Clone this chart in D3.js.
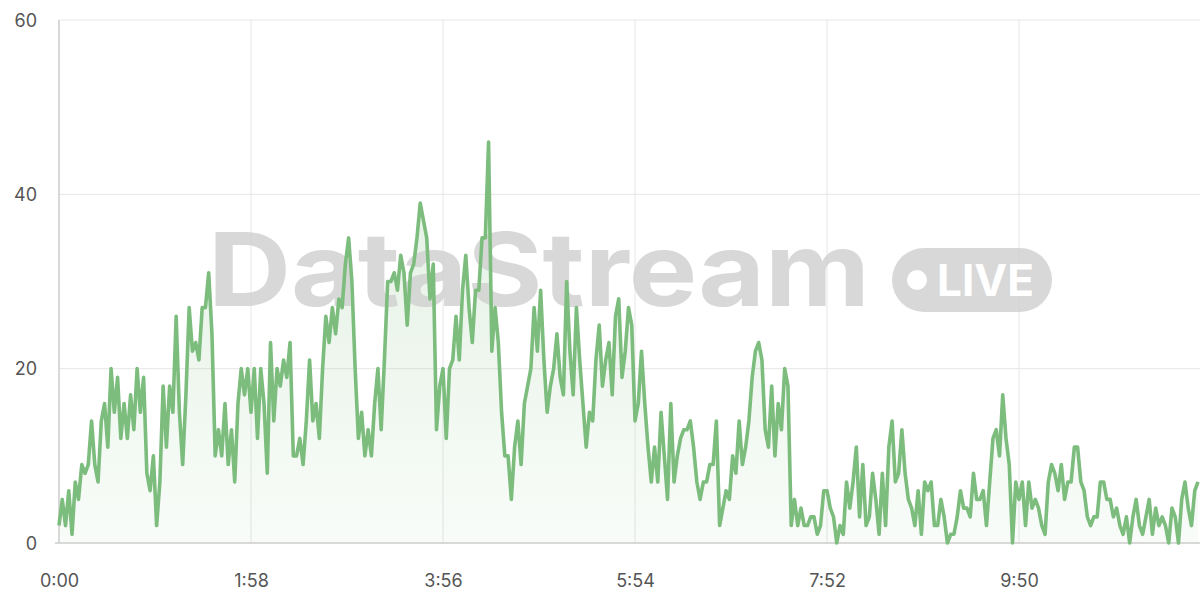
<!DOCTYPE html>
<html>
<head>
<meta charset="utf-8">
<script src="https://cdn.jsdelivr.net/npm/d3@7"></script>
<style>
  html, body { margin: 0; padding: 0; background: #ffffff; }
  svg { display: block; font-family: "Inter", "Noto Sans", "DejaVu Sans", sans-serif; }
</style>
</head>
<body>
<svg id="chart" width="1200" height="600"></svg>
<script>
// ---- data: one sample every 2 seconds, split into 118-second blocks ----
const stepSeconds = 2;
const block0 = [2,5,2,6,1,7,5,9,8,9, 14,9,7,14,16,11,20,15,19,12, 16,12,17,13,20,15,19,8,6,10,
                2,7,18,11,18,15,26,15,9,17, 27,22,23,21,27,27,31,24,10,13, 10,16,9,13,7,16,20,17,20];
const block1 = [15,20,12,20,16,8,23,14,20,18, 21,19,23,10,10,12,9,14,21,14, 16,12,20,26,23,27,24,28,27,32,
                35,30,20,12,15,10,13,10,16,20, 13,21,30,30,31,29,33,31,25,31, 32,35,39,37,35,28,32,13,18];
const block2 = [20,12,20,21,26,21,29,33,27,23, 29,29,35,35,46,22,27,23,15,10, 10,5,11,14,9,16,18,20,27,22,
                29,21,15,18,20,24,19,17,30,22, 17,27,21,16,11,15,14,21,25,18, 21,23,17,26,28,19,22,27,25];
const block3 = [14,16,22,16,11,7,11,7,15,10, 5,16,7,10,12,13,13,14,11,7, 5,7,7,9,9,14,2,4,6,5,
                10,8,14,9,11,14,19,22,23,21, 13,11,18,10,16,13,20,18,2,5, 2,4,2,2,3,3,1,2,6];
const block4 = [6,4,3,0,2,1,7,4,7,11, 3,9,2,3,8,5,1,8,2,11, 14,7,8,13,8,5,4,2,6,1,
                7,6,7,2,2,5,3,0,1,1, 3,6,4,4,3,8,5,5,6,2, 7,12,13,10,17,12,9,0,7];
const block5 = [5,7,2,7,4,5,4,2,1,7, 9,8,6,9,5,7,7,11,11,7, 6,3,2,3,3,7,7,5,5,3,
                4,2,1,3,0,3,5,2,1,3, 5,1,4,2,3,2,0,4,3,0, 5,7,4,2,6,7];
const xTickSeconds = [0, 118, 236, 354, 472, 590];
const yTickValues = [0, 20, 40, 60];
const watermarkText = "DataStream";
const badgeText = "LIVE";

const values = [].concat(block0, block1, block2, block3, block4, block5);
const data = values.map((v, i) => ({ t: i * stepSeconds, v }));

// ---- layout ----
const svg = d3.select("#chart");
const plotLeft = 59, plotRight = 1198, plotTop = 20, plotBottom = 543;

const x = d3.scaleLinear().domain([0, 700]).range([plotLeft, plotRight]);
const y = d3.scaleLinear().domain([0, 60]).range([plotBottom, plotTop]);

const fmt = s => Math.floor(s / 60) + ":" + String(s % 60).padStart(2, "0");

// gradient
const defs = svg.append("defs");
const grad = defs.append("linearGradient").attr("id", "areaGrad")
  .attr("gradientUnits", "userSpaceOnUse")
  .attr("x1", 0).attr("y1", y(46)).attr("x2", 0).attr("y2", y(0));
grad.append("stop").attr("offset", "0%").attr("stop-color", "#7cbd7e").attr("stop-opacity", 0.22);
grad.append("stop").attr("offset", "100%").attr("stop-color", "#7cbd7e").attr("stop-opacity", 0.05);

// horizontal grid
svg.append("g").selectAll("line").data(yTickValues.filter(d => d !== 0)).join("line")
  .attr("x1", plotLeft).attr("x2", 1200)
  .attr("y1", d => y(d)).attr("y2", d => y(d))
  .attr("stroke", "#e6e6e6").attr("stroke-width", 1);

// vertical grid
svg.append("g").selectAll("line").data(xTickSeconds.filter(d => d !== 0)).join("line")
  .attr("x1", d => x(d)).attr("x2", d => x(d))
  .attr("y1", plotTop).attr("y2", plotBottom)
  .attr("stroke", "#e6e6e6").attr("stroke-width", 1);

// area
const area = d3.area().x(d => x(d.t)).y0(y(0)).y1(d => y(d.v));
svg.append("path").datum(data).attr("d", area).attr("fill", "url(#areaGrad)");

// watermark
const wm = svg.append("g").attr("opacity", 0.85);
wm.append("text")
  .attr("x", 208).attr("y", 306)
  .attr("textLength", 662).attr("lengthAdjust", "spacingAndGlyphs")
  .attr("font-size", 102).attr("font-weight", 700)
  .attr("fill", "#d2d2d2")
  .text(watermarkText);
wm.append("rect").attr("x", 892).attr("y", 248).attr("width", 160).attr("height", 64)
  .attr("rx", 32).attr("fill", "#d2d2d2");
wm.append("circle").attr("cx", 917).attr("cy", 280).attr("r", 10).attr("fill", "#ffffff");
wm.append("text").attr("x", 937).attr("y", 296)
  .attr("textLength", 97).attr("lengthAdjust", "spacingAndGlyphs")
  .attr("font-size", 44).attr("font-weight", 700).attr("fill", "#ffffff")
  .text(badgeText);

// axes lines
svg.append("line").attr("x1", plotLeft).attr("x2", plotLeft).attr("y1", plotTop).attr("y2", plotBottom)
  .attr("stroke", "#cccccc").attr("stroke-width", 1.5);
svg.append("line").attr("x1", plotLeft - 4).attr("x2", 1200).attr("y1", plotBottom).attr("y2", plotBottom)
  .attr("stroke", "#cccccc").attr("stroke-width", 1.5);

// line
const line = d3.line().x(d => x(d.t)).y(d => y(d.v));
svg.append("path").datum(data).attr("d", line)
  .attr("fill", "none").attr("stroke", "#7cbd7e").attr("stroke-width", 3.6)
  .attr("stroke-linejoin", "round");

// axis labels via d3 axes
const xAxis = d3.axisBottom(x).tickValues(xTickSeconds).tickFormat(fmt).tickSize(0).tickPadding(0);
const gx = svg.append("g").attr("transform", `translate(0,${plotBottom})`).call(xAxis);
gx.select(".domain").remove();
gx.selectAll("text").attr("font-size", 18).attr("fill", "#555555")
  .attr("font-family", "Inter, 'Noto Sans', sans-serif").attr("dy", null).attr("y", 44);

const yAxis = d3.axisLeft(y).tickValues(yTickValues).tickSize(0).tickPadding(0);
const gy = svg.append("g").attr("transform", `translate(${plotLeft},0)`).call(yAxis);
gy.select(".domain").remove();
gy.selectAll("text").attr("font-size", 18).attr("fill", "#555555")
  .attr("font-family", "Inter, 'Noto Sans', sans-serif").attr("x", -22).attr("dy", "0.35em");
</script>
</body>
</html>
